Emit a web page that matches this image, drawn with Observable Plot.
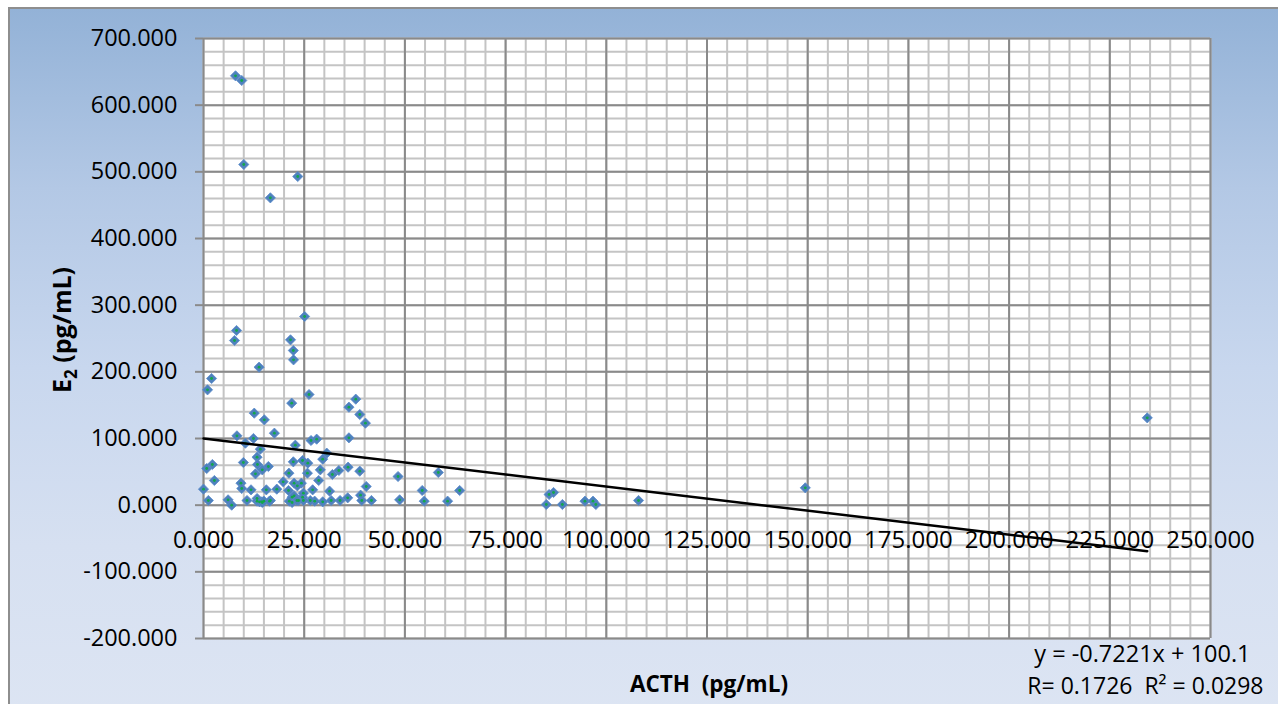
<!DOCTYPE html>
<html>
<head>
<meta charset="utf-8">
<script src="https://cdn.jsdelivr.net/npm/d3@7"></script>
<script src="https://cdn.jsdelivr.net/npm/@observablehq/plot@0.6"></script>
<style>
  html, body { margin: 0; padding: 0; background: #ffffff; }
  #wrap { position: relative; width: 1278px; height: 704px; overflow: hidden; }
  #frame {
    position: absolute; left: 8px; top: 7px; width: 1290px; height: 720px;
    border: 2px solid #8e8e8e; box-sizing: border-box;
    background: linear-gradient(to bottom, #93b2d7 0%, #b3c8e5 25%, #c8d7ee 50%, #d6e0f1 75%, #dde5f3 100%);
  }
  #chart { position: absolute; left: 0; top: 0; }
  text { font-family: "Open Sans", "Noto Sans", sans-serif; }
</style>
</head>
<body>
<div id="wrap"><div id="frame"></div><div id="chart"></div></div>
<script>
// ACTH (pg/mL) values
const acth = [7.95, 9.5, 10.0, 23.4, 16.6, 25.1, 8.2, 7.7, 21.6, 22.3, 22.35, 13.8, 2.0, 1.0, 21.9, 12.6, 15.1, 26.2, 37.8, 36.1,
  38.8, 40.2, 17.6, 8.3, 10.4, 12.4, 14.1, 22.8, 13.3, 9.9, 13.4, 16.1, 22.3, 24.6, 2.2, 0.8, 12.9, 14.6, 21.2, 2.7,
  9.3, 9.5, 19.8, 22.5, 24.3, 0.0, 11.8, 15.6, 18.2, 21.1, 1.2, 6.1, 7.0, 10.8, 13.3, 14.5, 16.6, 22.0, 22.0, 23.6,
  24.6, 26.7, 28.1, 36.1, 30.6, 29.6, 25.9, 25.8, 29.0, 35.9, 33.6, 32.0, 38.8, 28.6, 23.3, 40.4, 27.1, 31.3, 24.8, 22.5,
  39.0, 39.3, 41.7, 35.8, 33.9, 31.7, 29.6, 27.6, 26.5, 24.8, 23.2, 13.3, 13.9, 14.6, 15.0, 16.4, 21.3, 48.3, 48.7, 58.3,
  54.3, 54.8, 60.6, 63.6, 85.1, 85.8, 86.9, 89.1, 94.7, 96.7, 97.4, 108.0, 149.4, 234.3];
// E2 (pg/mL) values
const e2 = [644, 637, 511, 493, 461, 283, 262, 247, 248, 232, 218, 207, 190, 173, 153, 138, 128, 166, 159, 147,
  136, 123, 108, 104, 93, 100, 84, 90, 72, 64, 61, 58, 65, 67, 61, 55, 47, 53, 48, 37,
  33, 25, 35, 33, 33, 24, 23, 23, 24, 22, 7, 8, 0, 7, 10, 5, 7, 12, 4, 7,
  12, 97, 99, 101, 78, 69, 63, 48, 53, 57, 52, 46, 51, 37, 29, 28, 23, 21, 18, 14,
  15, 7, 7, 11, 7, 7, 5, 6, 7, 7, 7, 6, 5, 4, 6, 6, 6, 43, 8, 49,
  22, 6, 6, 22, 1, 16, 19, 1, 6, 6, 1, 7, 26, 131];

const xTicks = [0, 25, 50, 75, 100, 125, 150, 175, 200, 225, 250];
const yTicks = [-200, -100, 0, 100, 200, 300, 400, 500, 600, 700];
const xMinorStep = 5;
const yMinorStep = 20;

// Trend line as printed on the chart
const trendSlope = -0.7221;
const trendIntercept = 100.1;
const trendXRange = [0, 234.3];
const eqText = "y = -0.7221x + 100.1";
const rText = "R= 0.1726  R² = 0.0298";

const points = acth.map((x, i) => ({x, y: e2[i]}));
const trend = trendXRange.map(x => ({x, y: trendSlope * x + trendIntercept}));
const xMinor = d3.range(0, 250 + 0.001, xMinorStep);
const yMinor = d3.range(-200, 700 + 0.001, yMinorStep);
const fmt = d => d.toFixed(3);

const plot = Plot.plot({
  width: 1278,
  height: 704,
  marginLeft: 203,
  marginRight: 68,
  marginTop: 38,
  marginBottom: 66,
  style: {background: "transparent", fontFamily: "'Open Sans', 'Noto Sans', sans-serif", fontSize: "23px", color: "#000"},
  x: {domain: [0, 250], axis: null},
  y: {domain: [-200, 700], axis: null},
  marks: [
    Plot.frame({fill: "#ffffff", stroke: null}),
    Plot.ruleX(xMinor, {stroke: "#c4c4c4", strokeWidth: 2}),
    Plot.ruleY(yMinor, {stroke: "#c4c4c4", strokeWidth: 2}),
    Plot.ruleX(xTicks, {stroke: "#8a8a8a", strokeWidth: 2}),
    Plot.ruleY(yTicks, {stroke: "#8a8a8a", strokeWidth: 2}),
    Plot.axisY({ticks: yTicks, tickSize: 8, tickPadding: 18, tickFormat: fmt, stroke: "#8a8a8a", strokeWidth: 2, fontSize: 23.5, fill: "#000", label: null}),
    Plot.text(xTicks, {x: d => d, y: 0, dy: 35, text: fmt, fontSize: 24, fill: "#000"}),
    Plot.dot(points, {x: "x", y: "y", symbol: "diamond2", r: 4.6, fill: "#4f81bd", stroke: "#5a8ccb", strokeWidth: 0.8}),
    Plot.dot(points, {x: "x", y: "y", r: 1.4, fill: "#12a84a", stroke: null}),
    Plot.line(trend, {x: "x", y: "y", stroke: "#000", strokeWidth: 2.5}),
    Plot.text([eqText], {frameAnchor: "bottom-right", text: d => d, dx: 40, dy: 23, fontSize: 23.5, fill: "#000"}),
    Plot.text([rText], {frameAnchor: "bottom-right", text: d => d, dx: 53, dy: 55, fontSize: 23, fill: "#000"}),
    Plot.text(["ACTH  (pg/mL)"], {frameAnchor: "bottom", text: d => d, dx: 2, dy: 53, fontSize: 22.5, fontWeight: "bold", fill: "#000"})
  ]
});
document.getElementById("chart").appendChild(plot);

// rotated y-axis title with subscript
const svg = d3.select(plot);
const t = svg.append("text")
  .attr("transform", "translate(71,330) rotate(-90)")
  .attr("text-anchor", "middle")
  .attr("font-size", 25)
  .attr("font-weight", "bold")
  .attr("fill", "#000");
t.append("tspan").text("E");
t.append("tspan").attr("font-size", 17).attr("dy", 6).text("2");
t.append("tspan").attr("dy", -6).text(" (pg/mL)");
</script>
</body>
</html>
